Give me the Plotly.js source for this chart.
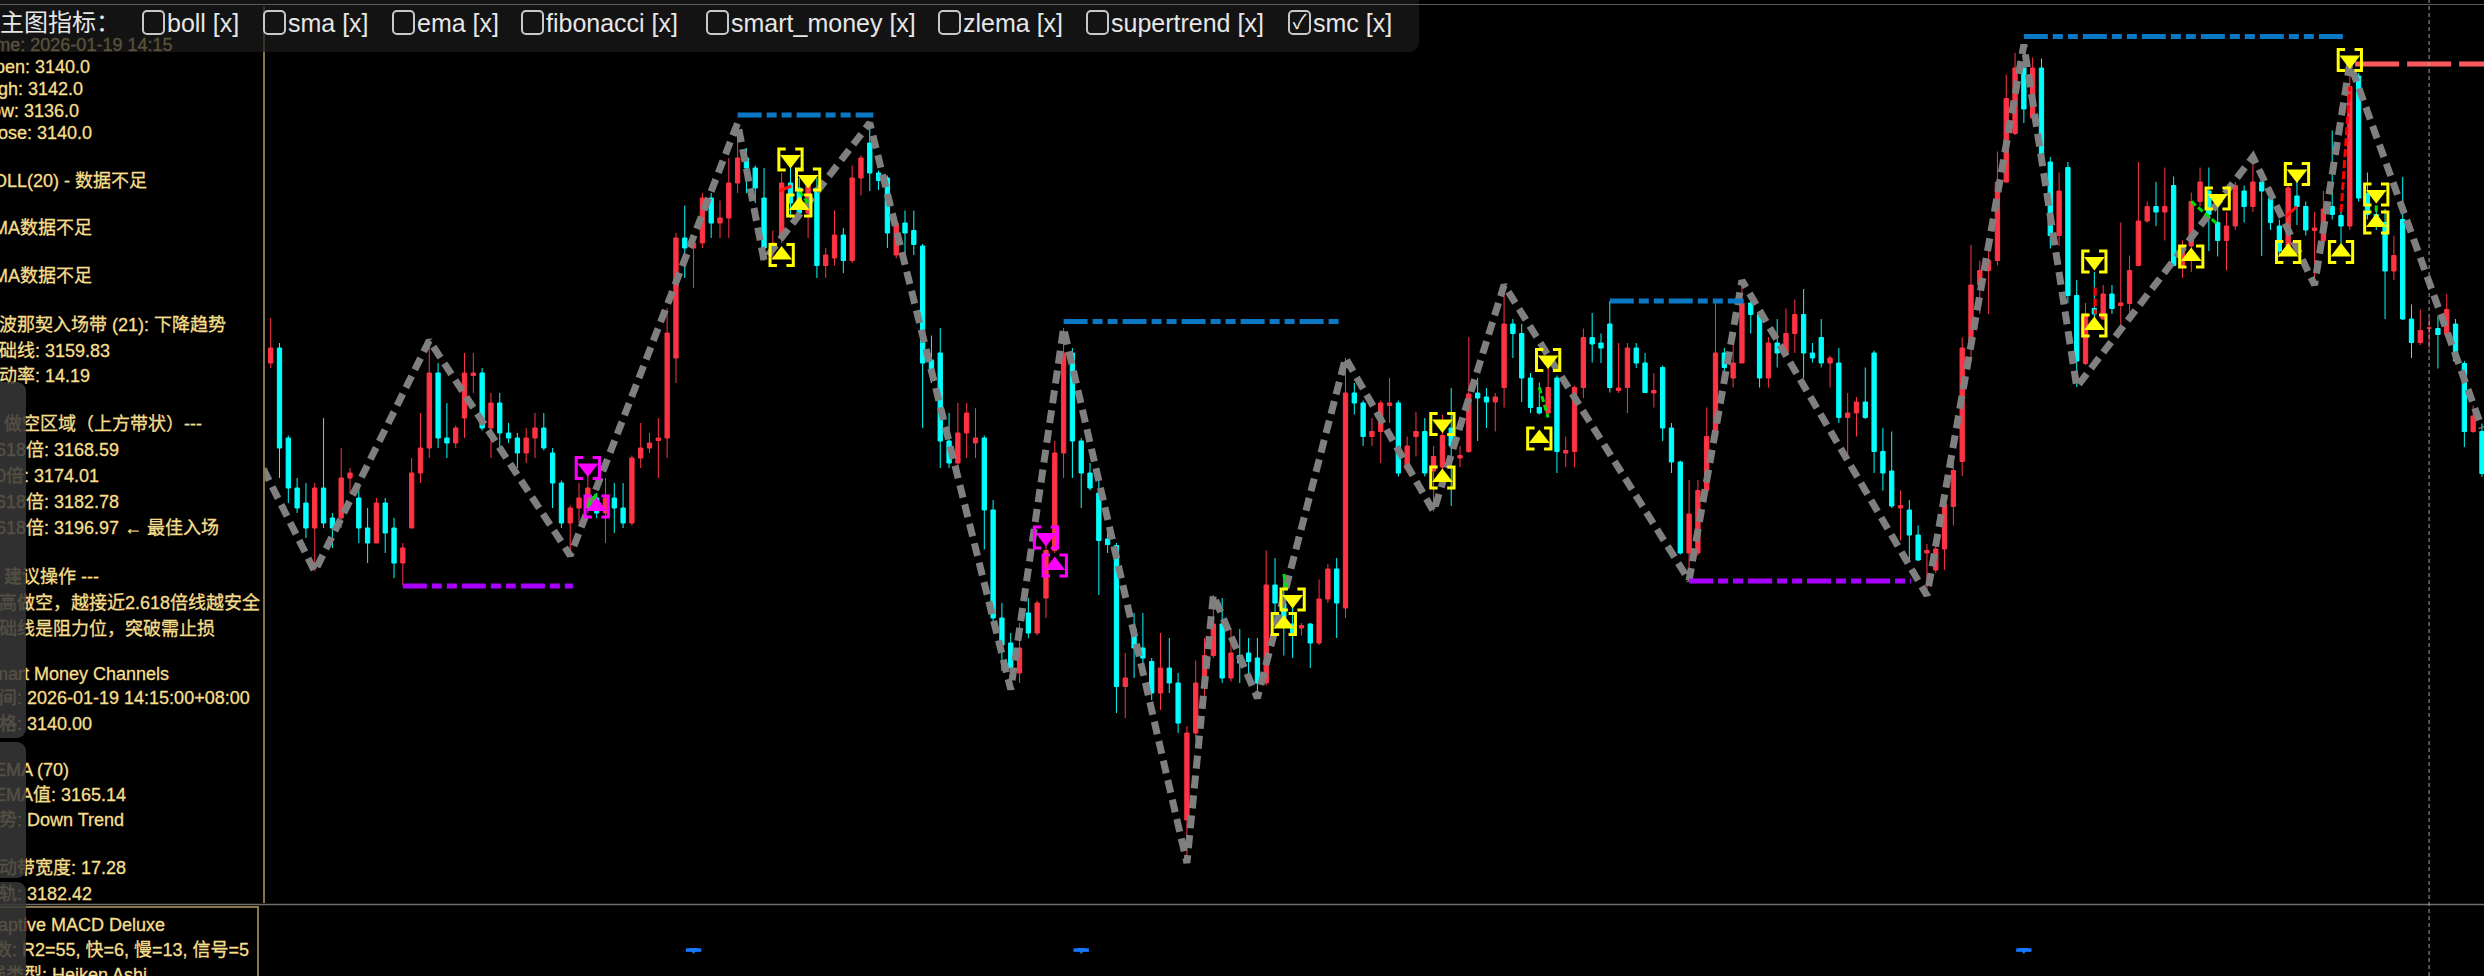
<!DOCTYPE html>
<html>
<head>
<meta charset="utf-8">
<script src="https://cdn.plot.ly/plotly-3.0.1.min.js"></script>
<style>
  html, body { margin:0; padding:0; background:#000; }
  body { width:2484px; height:976px; overflow:hidden; position:relative;
         font-family:"Liberation Sans", Arial, "Noto Sans CJK SC", sans-serif; }
  #chart { position:absolute; left:0; top:0; width:2484px; height:976px; }
  #info { position:absolute; left:-10px; top:6px; width:273px; height:897px;
          border-right:2px solid #857648; overflow:hidden; }
  #macdbox { position:absolute; left:-10px; top:906px; width:267px; height:80px;
          border-right:2px solid #857648; border-top:2px solid #857648; overflow:hidden; }
  .ln { position:absolute; left:-9px; white-space:nowrap; color:#f6df8c;
        font-size:18px; line-height:20px; height:20px; -webkit-text-stroke:0.3px #f6df8c; }
  .strip { position:absolute; left:0; width:26px; background:rgba(56,56,56,0.86);
           border-radius:0 9px 9px 0; }
  #toolbar { position:absolute; left:0; top:0; width:1419px; height:52px;
             background:rgba(27,27,27,0.72); border-radius:0 0 10px 0; }
  .tb { position:absolute; top:8px; height:30px; line-height:30px; color:#e6e6e6;
        font-size:25px; white-space:nowrap; }
  .cb { position:absolute; top:10px; width:19px; height:21px; border:2px solid #c8c8c8;
        border-radius:5px; box-sizing:content-box; color:#eee; font-size:20px;
        line-height:21px; text-align:center; }
  #topline { position:absolute; left:0; top:4px; width:2484px; height:1px; background:#5c5c5c; }
</style>
</head>
<body>
<div id="chart"></div>
<div id="info"></div>
<div id="macdbox"></div>
<div id="strips"></div>
<div id="toolbar"></div>
<div id="topline"></div>
<script>
// ---------------- DATA ----------------
const open = [3133,3136,3118,3108,3105,3100,3108,3102,3102,3110,3106,3100,3097,3105,3100,3093,3100,3111,3116,3131,
3118,3117,3122,3130.5,3131,3120,3125,3119,3118,3115,3118,3120,3115,3109,3101,3104,3104,3106,3103,3106,
3104,3101,3114,3116,3117.5,3118,3134,3158,3156,3157,3166,3161,3162,3169,3174,3172,3166,3156,3158,3169,
3168,3163,3168,3152.5,3154,3158.6,3153.5,3170,3177,3171,3170,3154.6,3161,3159.5,3156.4,3133.6,3135,3117.4,3113,3119,
3117,3118,3103.6,3082,3077,3071,3083,3079,3086,3095.5,3115,3135,3117.4,3111,3107,3097.8,3096.5,3068.3,3079.8,3076,
3073.3,3067,3072,3069,3041.6,3059,3069,3074.5,3080.8,3070,3074.5,3075,3074,3069,3088.6,3085,3080.8,3080,3080.8,3077,
3085.8,3091.8,3084,3127,3125,3118.3,3119.3,3124.5,3125,3111.7,3118.3,3119.3,3111.4,3112.2,3120,3114,3115.3,3127,3126.2,3125.2,
3128.1,3140.8,3138.9,3130,3124.1,3123,3130,3115,3115.3,3128.1,3138.1,3137,3140.8,3127.5,3128.1,3136,3133,3127,3132.1,3120,
3113.2,3095,3095,3107.5,3118.3,3135,3130,3133,3145,3142.7,3130,3137,3135,3138.9,3142.7,3135,3138.1,3133,3133,3122.1,
3123,3125.2,3135,3115.3,3111.4,3104,3103.6,3098.6,3095,3091.6,3095.8,3104.3,3113.3,3136,3148.6,3151.5,3153.5,3169.2,3178.9,3192,
3182,3192,3173.2,3158.5,3172.1,3146.5,3132.9,3143.9,3141.8,3146.8,3144.5,3144.9,3152.5,3161.4,3164.3,3163.2,3168.5,3152.5,3156.4,3165.3,
3167.4,3161.1,3157.5,3160.4,3167.4,3164.3,3169.2,3165.9,3160.4,3156.4,3166.4,3164.3,3159.5,3157.5,3164.3,3162.5,3160.4,3190.4,3166.9,3162.7,
3161.1,3151.4,3161.7,3141.8,3137.1,3140,3139.9,3138.7,3140.8,3132.9,3119.3,3119.3];
const high = [3142,3137,3118.5,3110,3109,3109,3122,3103,3116,3112,3109,3104,3106,3106,3102,3097,3114,3123,3137.5,3133,
3125,3120.5,3135,3135,3132,3127,3127,3121,3119,3120,3123,3123,3116,3109.5,3104.5,3109,3111,3107,3110,3109,
3109,3114.5,3121,3119,3122,3144,3159,3164.5,3158,3167,3167,3165.5,3174,3181,3176,3172.5,3172,3159.5,3171,3174,
3170,3170,3170,3156,3163.5,3160,3172.5,3174.5,3181,3171.5,3170.5,3161.5,3163.5,3163.5,3156.8,3138.5,3140,3123,3125,3125,
3124,3118.5,3105.6,3085,3079,3081,3086,3085.5,3097.5,3117.4,3140,3136,3118,3113,3109.6,3099.6,3097,3075,3083,3083,
3074,3079,3078,3071,3060.4,3073.5,3078,3086.6,3086,3079.8,3079.8,3078,3078,3095.5,3094,3090.8,3085,3081,3081,3089.7,
3092.8,3094,3134,3129,3125.5,3122,3125.5,3130,3125.5,3118.3,3123.2,3122,3116.4,3122.7,3128,3116.4,3138.2,3130,3128,3127,
3148.6,3141.8,3140.8,3131,3129.1,3132.1,3130.5,3118.3,3128.5,3139.9,3143,3138.9,3145.4,3137,3137,3137,3135,3131,3132.5,3121,
3113.5,3109.6,3109.6,3124.1,3145,3136,3137,3149.5,3146.2,3143,3138.2,3141.8,3143.9,3145.7,3147.8,3137,3141.8,3134.5,3136,3127,
3126.2,3132.1,3135.5,3120,3119.3,3107.5,3105.6,3100.5,3096.8,3096.8,3106.2,3113.5,3138.1,3156.6,3153.5,3155.4,3175.3,3190.7,3195,3196.7,
3194.1,3193.9,3174.2,3171.1,3173.2,3149.6,3145,3151.2,3148.6,3148.6,3161.1,3154.5,3173.2,3165.3,3169.2,3172.1,3170.3,3157.5,3167.1,3172.1,
3172.1,3164.3,3163.2,3169.2,3168.5,3174.2,3171.1,3167.4,3161.7,3169,3170,3165.3,3163.2,3167.4,3179.5,3164.3,3193,3191,3171.1,3164.3,
3163.8,3158.5,3170.2,3144.7,3143.7,3142,3142.3,3146.8,3141.8,3133.4,3124.5,3120.9];
const low = [3132,3110,3105,3103,3098,3091.3,3100,3096,3100,3107,3097,3093,3097,3095,3090,3088.5,3100,3109,3114,3116,
3114,3116,3118,3127,3119.5,3114,3116,3117,3112,3113,3114,3115.5,3104,3100,3094.5,3101,3103,3102,3097,3099,
3100,3100.5,3112,3115,3110,3114,3129,3150,3148,3156,3158,3158,3158,3167,3167,3165,3153.5,3154,3157,3162,
3162,3158,3150,3150,3152.5,3151,3153,3166.5,3167.4,3167.6,3156,3154,3155,3154.6,3120,3129,3112,3112,3112.5,3114,
3114,3095.7,3081,3071.4,3067.7,3069,3078,3078.5,3082,3095,3110,3110,3104,3107.5,3086.6,3095,3063,3062,3070,3070.4,
3065.6,3063.6,3067,3059,3033,3057.8,3065,3074,3069,3069.3,3069,3069,3066,3068.5,3081,3074.5,3074,3078.5,3072,3076.6,
3085,3078,3082,3122.7,3116.4,3116.4,3113,3121,3110.3,3111,3114.3,3110.3,3103.3,3110.7,3104.4,3112.2,3115,3117.4,3120,3119.3,
3124.1,3134,3125.2,3123,3122.7,3122.7,3111,3112.2,3112.2,3126,3133.1,3133,3127.1,3127,3123,3132,3127,3124.1,3117.4,3111,
3094.7,3089.5,3094.5,3107,3117.4,3131,3128.1,3133,3138.9,3128.1,3128.1,3132.1,3134.7,3135,3130,3133.1,3132.1,3128.1,3121,3114.3,
3118.3,3121.8,3111,3107.5,3104,3097.5,3093.6,3093.4,3086.5,3091,3091.6,3100.5,3110.4,3133.4,3142.8,3142.8,3152.5,3169,3178.6,3181,
3181.5,3174,3155.9,3156.4,3145,3128.2,3132.6,3141.8,3141.6,3142.8,3140.7,3142.8,3152.3,3161.1,3160.4,3157.5,3152.3,3150,3151.2,3164.3,
3155.4,3154.3,3151.5,3159.6,3161.1,3163.2,3154.4,3159.6,3154.3,3155.4,3160.6,3158.5,3148.6,3156.4,3161.7,3156.4,3159.6,3165.3,3161.7,3159.6,
3141.8,3149.6,3141.6,3134,3136.6,3136,3131.9,3138.1,3133.2,3116.2,3119,3110.2];
const close = [3136,3116,3108,3104,3100,3108,3101,3100,3110,3111,3100,3097,3105,3099,3093,3096,3111,3116,3131,3118,
3117,3120,3131,3131,3120,3125,3119,3118,3115,3118,3120,3116,3109,3101,3104,3106,3108,3103,3106,3104,
3101,3114,3116,3117,3118,3139,3158,3156,3157,3166,3161,3162,3169,3174,3172,3168,3156,3157,3169,3165,
3163,3169,3152.5,3154.6,3158.6,3153.5,3170,3174,3171,3169.5,3159,3161,3159,3156.7,3133,3131,3117.4,3113,3119,3123,
3118,3103.6,3082,3076.6,3072,3076,3079,3085,3095.5,3115,3135,3117.4,3111,3108,3097.5,3096.7,3068.3,3070,3076,3074,
3067,3072,3069,3061,3059,3069,3074.5,3080.8,3070,3075,3073,3073.3,3069,3088.6,3085,3082,3078.7,3080.5,3077,3085.8,
3091.8,3085,3127,3125,3118.3,3119.3,3125,3125,3111,3116.4,3119.3,3111,3114.3,3118.5,3116.4,3114.5,3126.8,3126,3125.2,3126.2,
3140.8,3138.9,3130,3124.1,3123,3128.1,3115.3,3115.5,3128.1,3138.1,3136.8,3136,3128.1,3128,3136,3133,3127.1,3127.5,3120,3113.2,
3095,3102.8,3107.5,3118.3,3135,3132.1,3133,3145,3142.7,3130,3137,3135,3138.9,3142.7,3135,3134,3133,3134,3122.1,3123,
3125.2,3122.1,3115.3,3111,3104.4,3104.5,3098.6,3093.6,3095.5,3095.8,3104.7,3111.5,3136,3148.6,3151.5,3153.5,3169.2,3185.9,3192,3183.8,
3192,3174.2,3158.5,3167.4,3146.5,3133.4,3142.8,3142.8,3146.8,3143.9,3145,3151.5,3161.4,3164.3,3163.2,3164.3,3152.5,3156.4,3165.3,3169.2,
3162.7,3157.5,3160.4,3168.5,3164.3,3169.2,3167.4,3161.1,3155.4,3168,3164.3,3159.6,3160,3163.8,3162.7,3160.4,3188.3,3166,3162.7,3160.8,
3151.4,3154.5,3141.8,3137.1,3139.5,3140,3138.7,3143.7,3133.4,3119.3,3122.4,3110.9];

// swing zigzag (bar index, price)
const zigIdx   = [-10, 5, 18, 34, 53, 56, 68, 84, 90, 104, 107, 112, 122, 132, 140, 161, 167, 188, 199, 205, 225, 232, 236, 251];
const zigPrice = [3144, 3091.3, 3137.5, 3094.5, 3181, 3153.5, 3181, 3067.7, 3140, 3033, 3086.6, 3066, 3134, 3103.3, 3148.6, 3089.5, 3149.5, 3086.5, 3196.7, 3128.2, 3174.2, 3148.6, 3193, 3120];

// structure levels
const highLvlStart = [53, 90, 152, 199];
const highLvlEnd   = [68.4, 121.4, 167.2, 235.6];
const highLvl      = [3182.6, 3141.3, 3145.4, 3198.3];
const lowLvlStart  = [15, 161];
const lowLvlEnd    = [34.3, 186.2];
const lowLvl       = [3088.4, 3089.4];
const lastHighStart = [236.6];
const lastHighEnd   = [252];
const lastHigh      = [3192.8];

// SMC signals
const ydnIdx = [59, 61, 116, 133, 145, 207, 221, 230, 236, 239];
const ydnPx  = [3173.7, 3169.7, 3085.7, 3120.8, 3133.6, 3153.3, 3165.9, 3170.8, 3193.6, 3166.7];
const yupIdx = [58, 60, 115, 133, 144, 207, 218, 229, 235, 239];
const yupPx  = [3154.6, 3164.5, 3080.8, 3110.1, 3117.9, 3140.5, 3154.3, 3155.2, 3155.2, 3161.1];
const mdnIdx = [36, 88];
const mdnPx  = [3112, 3098.1];
const mupIdx = [37, 89];
const mupPx  = [3104.3, 3092.5];

// short SMC links
const grnX0 = [36.0, 60.0, 115.0, 144.0, 218.0, 239.0];
const grnY0 = [3104.3, 3167.4, 3090.8, 3128.1, 3165.3, 3164.5];
const grnX1 = [37.05, 61.2, 115.3, 145.0, 221.1, 239.0];
const grnY1 = [3107, 3164.5, 3087.6, 3122.1, 3160.6, 3162.8];
const redX0 = [57.7, 228.7];
const redY0 = [3167.4, 3162.2];
const redX1 = [59.1, 230.0];
const redY1 = [3168.4, 3164.3];
const rdX0 = [207.1, 235.0];
const rdY0 = [3148.1, 3163.2];
const rdX1 = [207.1, 236.0];
const rdY1 = [3142.8, 3188.3];

// MACD panel signals
const macdSigIdx = [48, 92, 199];
const macdSigVal = [0.37, 0.37, 0.37];

const hoverIdx = 245;

const toolbarLabel = "主图指标：";
const indicators = ["boll [x]", "sma [x]", "ema [x]", "fibonacci [x]", "smart_money [x]", "zlema [x]", "supertrend [x]", "smc [x]"];
const indicatorOn = [false, false, false, false, false, false, false, true];

const infoLines = [
  ["Time: 2026-01-19 14:15", 45], ["Open: 3140.0", 67], ["High: 3142.0", 89], ["Low: 3136.0", 111], ["Close: 3140.0", 133],
  ["BOLL(20) - 数据不足", 181], ["SMA数据不足", 228], ["EMA数据不足", 276],
  ["斐波那契入场带 (21): 下降趋势", 325], ["基础线: 3159.83", 351], ["波动率: 14.19", 376],
  ["--- 做空区域（上方带状）---", 424], ["1.618倍: 3168.59", 450], ["2.0倍: 3174.01", 476], ["2.618倍: 3182.78", 502],
  ["3.618倍: 3196.97 ← 最佳入场", 528],
  ["--- 建议操作 ---", 577], ["逢高做空，越接近2.618倍线越安全", 603], ["基础线是阻力位，突破需止损", 629],
  ["Smart Money Channels", 674], ["时间: 2026-01-19 14:15:00+08:00", 698], ["价格: 3140.00", 724],
  ["ZLEMA (70)", 770], ["ZLEMA值: 3165.14", 795], ["趋势: Down Trend", 820],
  ["波动带宽度: 17.28", 868], ["上轨: 3182.42", 894],
  ["Adaptive MACD Deluxe", 923], ["参数: R2=55, 快=6, 慢=13, 信号=5", 948], ["K线类型: Heiken Ashi", 973]
];

// ---------------- BUILD ----------------
const RED = '#ff3344', CYAN = '#00ffff';
const idx = open.map((_, i) => i);

function segs(x0, y0, x1, y1) {
  const x = [], y = [];
  for (let i = 0; i < x0.length; i++) { x.push(x0[i], x1[i], null); y.push(y0[i], y1[i], null); }
  return {x, y};
}
// "[ ]" frames around signal triangles (half width / arm in bar units, half height in price units)
function frames(xs, ys) {
  const hw = 1.32, arm = 0.78, hh = 2.1, x = [], y = [];
  for (let i = 0; i < xs.length; i++) {
    const c = xs[i], p = ys[i];
    x.push(c - hw + arm, c - hw, c - hw, c - hw + arm, null, c + hw - arm, c + hw, c + hw, c + hw - arm, null);
    y.push(p + hh, p + hh, p - hh, p - hh, null, p + hh, p + hh, p - hh, p - hh, null);
  }
  return {x, y};
}
const hl = segs(highLvlStart, highLvl, highLvlEnd, highLvl);
const ll = segs(lowLvlStart, lowLvl, lowLvlEnd, lowLvl);
const lh = segs(lastHighStart, lastHigh, lastHighEnd, lastHigh);
const gs = segs(grnX0, grnY0, grnX1, grnY1);
const rs = segs(redX0, redY0, redX1, redY1);
const rds = segs(rdX0, rdY0, rdX1, rdY1);
const yf = frames(ydnIdx.concat(yupIdx), ydnPx.concat(yupPx));
const mf = frames(mdnIdx.concat(mupIdx), mdnPx.concat(mupPx));

const traces = [
  {type:'candlestick', x: idx, open, high, low, close,
   increasing:{line:{color:RED, width:1}, fillcolor:RED},
   decreasing:{line:{color:CYAN, width:1}, fillcolor:CYAN},
   whiskerwidth:0, hoverinfo:'skip', xaxis:'x', yaxis:'y'},
  {type:'scatter', mode:'lines', x: zigIdx, y: zigPrice,
   line:{color:'#7f7f7f', width:7, dash:'13px,7px'}, hoverinfo:'skip'},
  {type:'scatter', mode:'lines', x: hl.x, y: hl.y, connectgaps:false,
   line:{color:'#0a78c4', width:5, dash:'24px,5px,10px,5px,10px,5px'}, hoverinfo:'skip'},
  {type:'scatter', mode:'lines', x: ll.x, y: ll.y, connectgaps:false,
   line:{color:'#a800ff', width:5, dash:'24px,5px,10px,5px,10px,5px'}, hoverinfo:'skip'},
  {type:'scatter', mode:'lines', x: lh.x, y: lh.y,
   line:{color:'#ff5a5f', width:5, dash:'44px,8px'}, hoverinfo:'skip'},
  {type:'scatter', mode:'lines', x: gs.x, y: gs.y,
   line:{color:'#00e000', width:3, dash:'6px,3px'}, hoverinfo:'skip'},
  {type:'scatter', mode:'lines', x: rs.x, y: rs.y,
   line:{color:'#ff1010', width:3}, hoverinfo:'skip'},
  {type:'scatter', mode:'lines', x: rds.x, y: rds.y,
   line:{color:'#ff0000', width:3, dash:'8px,3px'}, hoverinfo:'skip'},
  // signal frames and triangles
  {type:'scatter', mode:'lines', x: yf.x, y: yf.y, connectgaps:false,
   line:{color:'#ffff00', width:3}, hoverinfo:'skip'},
  {type:'scatter', mode:'markers', x: ydnIdx, y: ydnPx,
   marker:{symbol:'triangle-down', size:18, color:'#ffff00'}, hoverinfo:'skip'},
  {type:'scatter', mode:'markers', x: yupIdx, y: yupPx,
   marker:{symbol:'triangle-up', size:18, color:'#ffff00'}, hoverinfo:'skip'},
  {type:'scatter', mode:'lines', x: mf.x, y: mf.y, connectgaps:false,
   line:{color:'#ff00ff', width:3}, hoverinfo:'skip'},
  {type:'scatter', mode:'markers', x: mdnIdx, y: mdnPx,
   marker:{symbol:'triangle-down', size:18, color:'#ff00ff'}, hoverinfo:'skip'},
  {type:'scatter', mode:'markers', x: mupIdx, y: mupPx,
   marker:{symbol:'triangle-up', size:18, color:'#ff00ff'}, hoverinfo:'skip'},
  // MACD panel signals
  {type:'scatter', mode:'markers', x: macdSigIdx, y: macdSigVal, xaxis:'x2', yaxis:'y2',
   marker:{symbol:'line-ew-open', size:11, color:'#1677ff', line:{width:3.5, color:'#1677ff'}}, hoverinfo:'skip'},
  {type:'scatter', mode:'markers', x: macdSigIdx, y: macdSigVal, xaxis:'x2', yaxis:'y2',
   marker:{symbol:'triangle-down', size:8, color:'#1677ff'}, hoverinfo:'skip'}
];

const xr = [-0.647, 251.23];
const layout = {
  width: 2484, height: 976, margin:{l:0, r:0, t:0, b:0, pad:0},
  paper_bgcolor:'#000', plot_bgcolor:'#000', showlegend:false, hovermode:false,
  xaxis:{domain:[265/2484, 1], range: xr, visible:false, rangeslider:{visible:false}, fixedrange:true},
  yaxis:{domain:[1 - 904/976, 1 - 4/976], range:[3024.8, 3204.8], visible:false, fixedrange:true},
  xaxis2:{domain:[265/2484, 1], range: xr, visible:false, anchor:'y2', fixedrange:true},
  yaxis2:{domain:[0, 70/976], range:[0, 1], visible:false, anchor:'x2', fixedrange:true},
  shapes:[
    {type:'line', xref:'paper', yref:'paper', x0:0, x1:1, y0:1 - 904.5/976, y1:1 - 904.5/976,
     line:{color:'#6e6e6e', width:1.5}},
    {type:'line', xref:'x', yref:'paper', x0:hoverIdx, x1:hoverIdx, y0:0, y1:1, layer:'above',
     line:{color:'#a0a0a0', width:1, dash:'4px,3px'}}
  ]
};

Plotly.newPlot('chart', traces, layout, {staticPlot:true, displayModeBar:false});

// ---------- overlays: info panel ----------
const info = document.getElementById('info');
const macdbox = document.getElementById('macdbox');
infoLines.forEach(([t, y]) => {
  const d = document.createElement('div');
  d.className = 'ln';
  d.textContent = t;
  const inMacd = y > 905;
  d.style.top = (y - 10 - (inMacd ? 906 : 6)) + 'px';
  if (inMacd) d.style.left = '-14px';
  if (t.indexOf('ZLEMA') === 0) d.style.left = '-17px';
  (inMacd ? macdbox : info).appendChild(d);
});
const strips = document.getElementById('strips');
[[382, 738], [742, 878], [882, 980]].forEach(([a, b]) => {
  const s = document.createElement('div');
  s.className = 'strip';
  s.style.top = a + 'px'; s.style.height = (b - a) + 'px';
  strips.appendChild(s);
});

// ---------- toolbar ----------
const tb = document.getElementById('toolbar');
const lbl = document.createElement('div');
lbl.className = 'tb'; lbl.style.left = '0px'; lbl.style.fontSize = '24px';
lbl.textContent = toolbarLabel; tb.appendChild(lbl);
const boxX = [142, 263, 392, 521, 706, 938, 1086, 1288];
indicators.forEach((name, i) => {
  const b = document.createElement('div');
  b.className = 'cb'; b.style.left = boxX[i] + 'px';
  if (indicatorOn[i]) b.textContent = '✓';
  tb.appendChild(b);
  const t = document.createElement('div');
  t.className = 'tb'; t.style.left = (boxX[i] + 25) + 'px';
  t.textContent = name; tb.appendChild(t);
});
</script>
</body>
</html>
